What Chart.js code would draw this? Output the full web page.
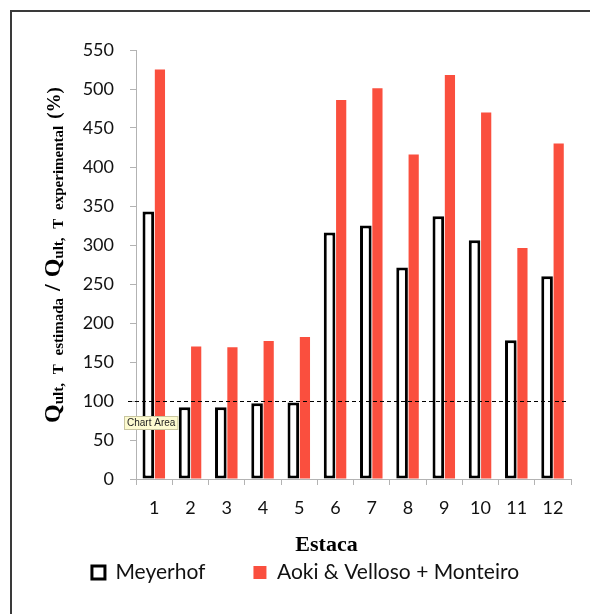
<!DOCTYPE html>
<html>
<head>
<meta charset="utf-8">
<script src="https://cdn.jsdelivr.net/npm/chart.js@4.4.1/dist/chart.umd.min.js"></script>
<style>
  html, body { margin: 0; padding: 0; background: #fff; }
</style>
</head>
<body>
<canvas id="grafico-estacas" width="590" height="614"></canvas>
<script>
'use strict';

// Datos
const estacas = ['1', '2', '3', '4', '5', '6', '7', '8', '9', '10', '11', '12'];
const meyerhof = [343, 92, 92, 97, 98, 316, 325, 271, 337, 306, 178, 260];
const aokiVelloso = [525, 170, 169, 177, 182, 486, 501, 416, 518, 470, 296, 430];
const nombresSeries = ['Meyerhof', 'Aoki & Velloso + Monteiro'];
const ejeYMin = 0;
const ejeYMax = 550;
const ejeYPaso = 50;
const referencia = 100; // línea discontinua del 100 %
const tituloX = 'Estaca';
// Título Y: texto principal + subíndice
const tituloY = [['Q', 'ult, T estimada'], ['/', ''], ['Q', 'ult, T experimental'], ['(%)', '']];
const etiquetaArea = 'Chart Area';

const GRIS_EJE = '#b3b3b3';
const ROJO = '#fa4f3e';
const fuenteTicks = { family: 'Lato', size: 18 };

/**
 * Marco, línea de referencia, títulos de ejes y la etiqueta "Chart Area".
 */
const extras = {
    id: 'extras',
    afterLayout(chart) {
        // sube la leyenda justo debajo del título "Estaca"
        const leyenda = chart.legend;
        const alto = leyenda.height;
        leyenda.top = chart.chartArea.bottom + 35;
        leyenda.bottom = leyenda.top + alto;
    },
    beforeDraw(chart) {
        const { ctx, width, height } = chart;
        ctx.save();
        ctx.fillStyle = '#ffffff';
        ctx.fillRect(0, 0, width, height);
        ctx.strokeStyle = '#3a3a3a';
        ctx.lineWidth = 2;
        ctx.beginPath();
        ctx.moveTo(width, 11);
        ctx.lineTo(11, 11);
        ctx.lineTo(11, height);
        ctx.stroke();
        ctx.restore();
    },
    afterDatasetsDraw(chart) {
        const { ctx, chartArea, scales } = chart;
        const y = Math.round(scales.y.getPixelForValue(referencia)) + 0.5;
        ctx.save();
        ctx.strokeStyle = '#000000';
        ctx.lineWidth = 1;
        ctx.setLineDash([4, 3]);
        ctx.beginPath();
        ctx.moveTo(chartArea.left - 8, y);
        ctx.lineTo(chartArea.right - 4, y);
        ctx.stroke();
        ctx.restore();
    },
    afterDraw(chart) {
        const { ctx, chartArea, scales } = chart;
        ctx.save();

        // Título eje X
        ctx.fillStyle = '#000000';
        ctx.font = 'bold 22px "Liberation Serif"';
        ctx.textAlign = 'center';
        ctx.textBaseline = 'middle';
        ctx.fillText(tituloX, (chartArea.left + chartArea.right) / 2 - 27, chartArea.bottom + 66);

        // Título eje Y (rotado, con subíndices)
        const fPrincipal = t => t === '(%)' ? 'bold 19px "Liberation Serif"' : 'bold 24px "Liberation Serif"';
        const fSub = 'bold 15px "Liberation Serif"';
        const hueco = 7;
        ctx.wordSpacing = '5px';
        let total = 0;
        const medidas = tituloY.map(([txt, sub], i) => {
            ctx.font = fPrincipal(txt);
            const a = ctx.measureText(txt).width;
            ctx.font = fSub;
            const b = sub ? ctx.measureText(sub).width : 0;
            total += a + b + (i > 0 ? hueco : 0);
            return [a, b];
        });
        const cx = chartArea.left - 76;
        const cy = chartArea.top + 205;
        ctx.translate(cx, cy);
        ctx.rotate(-Math.PI / 2);
        ctx.textAlign = 'left';
        ctx.textBaseline = 'alphabetic';
        let x = -total / 2;
        tituloY.forEach(([txt, sub], i) => {
            if (i > 0) x += hueco;
            ctx.font = fPrincipal(txt);
            ctx.fillText(txt, x, 0);
            x += medidas[i][0];
            if (sub) {
                ctx.font = fSub;
                ctx.fillText(sub, x, 3);
                x += medidas[i][1];
            }
        });
        ctx.setTransform(1, 0, 0, 1, 0, 0);
        ctx.wordSpacing = '0px';

        // Etiqueta flotante "Chart Area"
        const ty = scales.y.getPixelForValue(referencia) + 15;
        const tx = chartArea.left - 12;
        ctx.font = '10px "Liberation Sans"';
        const w = ctx.measureText(etiquetaArea).width + 6;
        ctx.fillStyle = '#fdfbd0';
        ctx.fillRect(tx, ty, w, 14);
        ctx.strokeStyle = '#c9c6a0';
        ctx.lineWidth = 1;
        ctx.strokeRect(tx + 0.5, ty + 0.5, w - 1, 13);
        ctx.fillStyle = '#222222';
        ctx.textAlign = 'left';
        ctx.textBaseline = 'middle';
        ctx.fillText(etiquetaArea, tx + 3, ty + 7.5);

        ctx.restore();
    }
};

const grafico = new Chart(document.getElementById('grafico-estacas'), {
    type: 'bar',
    data: {
        labels: estacas,
        datasets: [
            {
                label: nombresSeries[0],
                data: meyerhof,
                backgroundColor: '#ffffff',
                borderColor: '#000000',
                borderWidth: 3,
                borderSkipped: false,
                categoryPercentage: 0.64,
                barPercentage: 1
            },
            {
                label: nombresSeries[1],
                data: aokiVelloso,
                backgroundColor: ROJO,
                borderWidth: 0,
                categoryPercentage: 0.64,
                barPercentage: 0.88
            }
        ]
    },
    options: {
        responsive: false,
        animation: false,
        devicePixelRatio: 1,
        layout: { padding: { left: 40, top: 50, right: 19, bottom: 12 } },
        scales: {
            x: {
                grid: { drawOnChartArea: false, tickLength: 6, color: GRIS_EJE, offset: true },
                border: { color: GRIS_EJE, width: 1 },
                ticks: { font: fuenteTicks, color: '#111111', padding: 12 },
                afterFit: s => { s.height = 44; }
            },
            y: {
                min: ejeYMin,
                max: ejeYMax,
                grid: { drawOnChartArea: false, tickLength: 6, color: GRIS_EJE },
                border: { color: GRIS_EJE, width: 1 },
                ticks: { stepSize: ejeYPaso, font: fuenteTicks, color: '#111111', padding: 16 },
                afterFit: s => { s.width = 96; }
            }
        },
        plugins: {
            legend: {
                position: 'bottom',
                labels: {
                    font: { family: 'Lato', size: 21 },
                    color: '#111111',
                    boxWidth: 13,
                    boxHeight: 13,
                    padding: 48
                }
            },
            tooltip: { enabled: false }
        }
    },
    plugins: [extras]
});
</script>
</body>
</html>
